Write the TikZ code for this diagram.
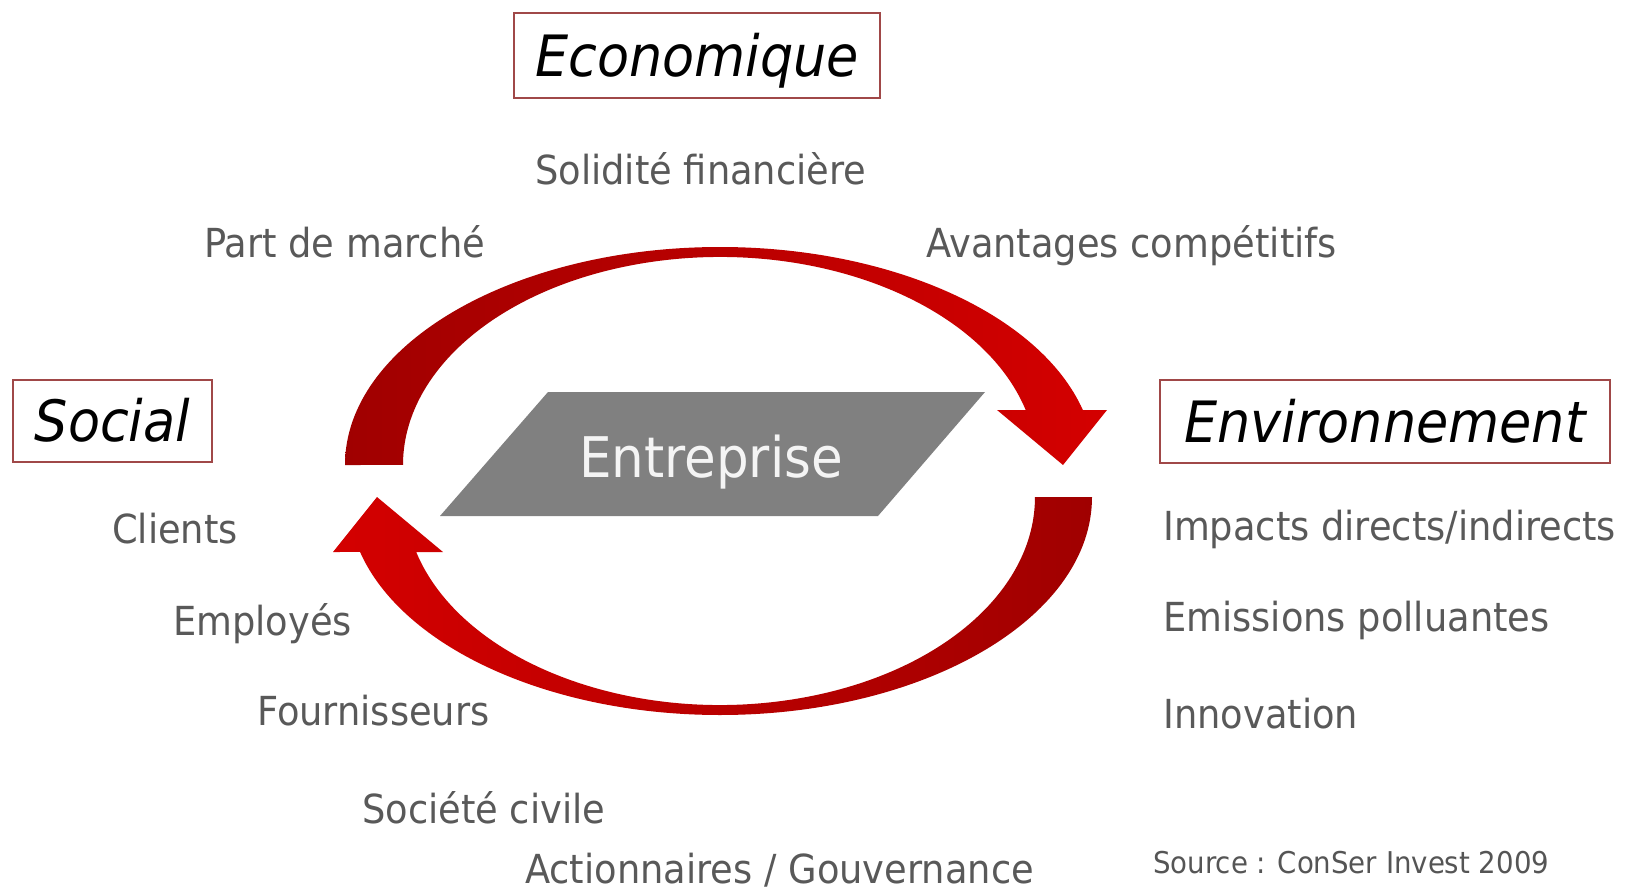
\documentclass[tikz,border=0pt]{standalone}
\usepackage{fontspec}
\setmainfont{DejaVu Sans}[FakeStretch=0.92]
\definecolor{itemgray}{HTML}{595959}
\definecolor{srcgray}{HTML}{555555}
\definecolor{boxred}{HTML}{A04848}
\definecolor{arrdark}{HTML}{A00000}
\definecolor{arrbright}{HTML}{D40000}
\definecolor{entgray}{HTML}{808080}
\definecolor{enttext}{HTML}{F4F4F4}
\begin{document}
\begin{tikzpicture}[x=1pt,y=-1pt,
  item/.style={anchor=base west, inner sep=0pt, text=itemgray, font=\fontsize{40}{48}\selectfont},
  titlebox/.style={draw=boxred, line width=1.6pt, inner sep=0pt, text height=41.5pt, text depth=0pt,
    font=\fontsize{57}{68}\selectfont\itshape, text=black},
  src/.style={anchor=base west, inner sep=0pt, text=srcgray, font=\fontsize{30}{36}\selectfont}]
\useasboundingbox (0,0) rectangle (1626,891);
\fill[white] (0,0) rectangle (1626,891);

% title boxes
\node[titlebox, minimum width=366pt, minimum height=85pt] (eco) at (697,55.5) {Economique};
\node[titlebox, minimum width=199pt, minimum height=82pt] (soc) at (112.5,421) {Social};
\node[titlebox, minimum width=450pt, minimum height=83pt] (env) at (1385,421.5) {Environnement};

% central parallelogram
\fill[entgray] (548,392) -- (985,392) -- (878,516) -- (440,516) -- cycle;
\node[inner sep=0pt, text=enttext, font=\fontsize{56}{66}\selectfont, text height=41pt, text depth=0pt] (ent) at (711,457) {Entreprise};

% top arrow
\shade[left color=arrdark, right color=arrbright]
  (345,465) arc[start angle=180, end angle=345.4, x radius=375, y radius=218]
  -- (1107,410) -- (1063,465) -- (997,410) -- (1025.7,410)
  arc[start angle=344.67, end angle=180, x radius=317, y radius=208] -- cycle;

% bottom arrow
\shade[left color=arrbright, right color=arrdark]
  (1092,497) arc[start angle=0, end angle=165.39, x radius=372, y radius=218]
  -- (333,552) -- (377,497) -- (443,552) -- (416.2,552)
  arc[start angle=164.67, end angle=0, x radius=315, y radius=208] -- cycle;

% economic items
\node[item] (sol) at (535,184.5) {Solidité financière};
\node[item] (pdm) at (204,257) {Part de marché};
\node[item] (avc) at (926,257) {Avantages compétitifs};

% social items
\node[item] (cli) at (112,543) {Clients};
\node[item] (emp) at (173,635) {Employés};
\node[item] (fou) at (257,725) {Fournisseurs};
\node[item] (soci) at (362,823) {Société civile};
\node[item] (act) at (525,883) {Actionnaires / Gouvernance};

% environment items
\node[item] (imp) at (1163,540) {Impacts directs/indirects};
\node[item] (emi) at (1163,631.5) {Emissions polluantes};
\node[item] (inn) at (1163,728) {Innovation};

% source
\node[src] (source) at (1153,873) {Source : ConSer Invest 2009};
\end{tikzpicture}
\end{document}
